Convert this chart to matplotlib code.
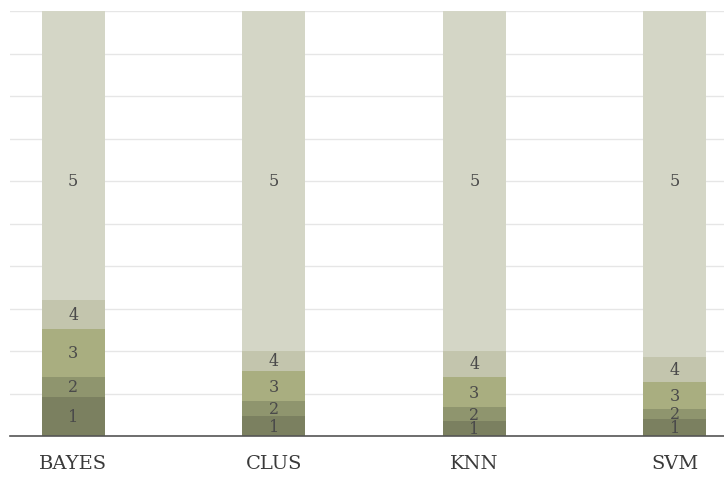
import matplotlib.pyplot as plt
import numpy as np

# 每个模型的评分分布（百分比，1~5 级堆叠）
models = ["BAYES", "CLUS", "KNN", "SVM"]
level_1 = [9.2, 4.7, 3.5, 4.0]
level_2 = [4.7, 3.5, 3.3, 2.4]
level_3 = [11.3, 7.1, 7.1, 6.4]
level_4 = [6.8, 4.7, 6.1, 5.9]
level_5 = [68.0, 80.0, 80.0, 81.3]
levels = ["1", "2", "3", "4", "5"]
colors = ["#7b8060", "#8f956e", "#a9ae80", "#c3c5ad", "#d4d6c6"]

series = [level_1, level_2, level_3, level_4, level_5]

fig = plt.figure(figsize=(7.24, 4.81), dpi=100)
ax = fig.add_axes([10 / 724, 44 / 481, 714 / 724, 425 / 481])

x = np.arange(len(models))
bottom = np.zeros(len(models))
for name, vals, c in zip(levels, series, colors):
    vals = np.array(vals)
    ax.bar(x, vals, bottom=bottom, width=0.315, color=c, zorder=2)
    for xi, b, v in zip(x, bottom, vals):
        # 第 5 级的标签放在同一高度
        y = 60 if name == "5" else b + v / 2
        ax.text(xi, y, name, ha="center", va="center", fontsize=11.5,
                family="DejaVu Serif", color="#4a4a4a", zorder=3)
    bottom += vals

ax.set_xlim(-0.315, 3.245)
ax.set_ylim(0, 100)
ax.set_yticks(np.arange(0, 101, 10))
ax.yaxis.grid(True, color="#e6e6e6", linewidth=1, zorder=0)
ax.tick_params(axis="y", left=False, labelleft=False)
ax.tick_params(axis="x", length=0, pad=13)
ax.set_xticks(x)
ax.set_xticklabels(models, family="DejaVu Serif", fontsize=14, color="#3a3a3a")
for s in ["top", "right", "left"]:
    ax.spines[s].set_visible(False)
ax.spines["bottom"].set_color("#555555")
ax.spines["bottom"].set_linewidth(1.2)
ax.spines["bottom"].set_zorder(4)

plt.savefig("out.png", dpi=100)
plt.close()
